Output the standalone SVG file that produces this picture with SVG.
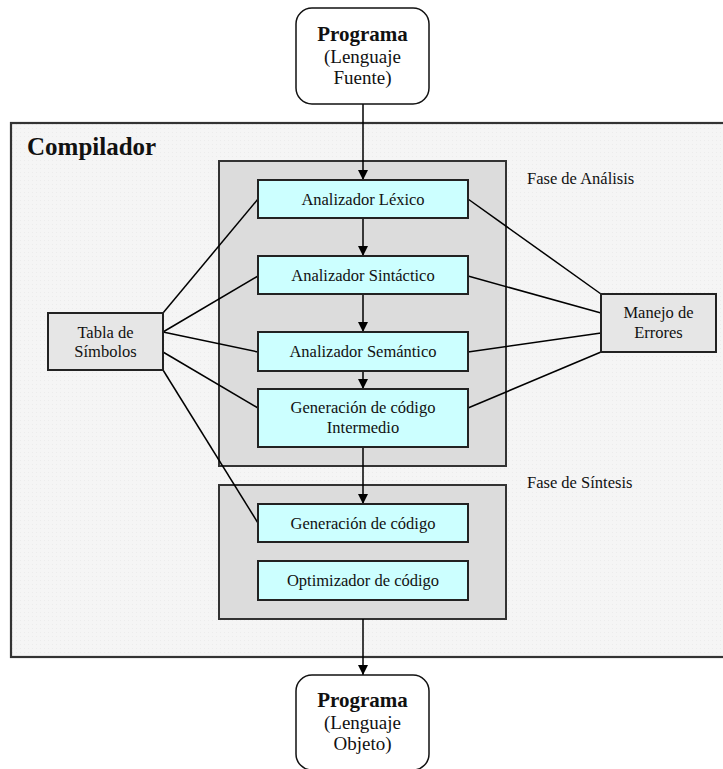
<svg xmlns="http://www.w3.org/2000/svg" width="723" height="769" viewBox="0 0 723 769">
  <defs>
    <marker id="arrow" viewBox="0 0 10 10" refX="10" refY="5" markerWidth="10" markerHeight="10" markerUnits="userSpaceOnUse" orient="auto">
      <path d="M0,0 L10,5 L0,10 Z" fill="#000"/>
    </marker>
    <pattern id="dots" width="4" height="4" patternUnits="userSpaceOnUse">
      <rect width="4" height="4" fill="#f5f5f5"/>
      <rect width="1" height="1" fill="#ececec"/>
    </pattern>
  </defs>
  <style>
    text { font-family: "Liberation Serif", "Times New Roman", serif; fill: #111; }
    .lbl { font-size: 16.5px; text-anchor: middle; }
    .prog { font-size: 19px; text-anchor: middle; }
    .bold { font-weight: bold; font-size: 21px; }
    .note { font-size: 16.5px; }
    .phase { fill: #dcdcdc; stroke: #333; stroke-width: 2; }
    .step { fill: #ccffff; stroke: #222; stroke-width: 2; }
    .side { fill: #e6e6e6; stroke: #222; stroke-width: 2; }
    .term { fill: #fff; stroke: #111; stroke-width: 1.5; }
    .conn line { stroke: #000; stroke-width: 1.5; }
    .flow line { stroke: #000; stroke-width: 1.5; marker-end: url(#arrow); }
  </style>

  <rect width="723" height="769" fill="#fff"/>

  <!-- Compiler container -->
  <g id="compilador">
    <rect x="11" y="123" width="716" height="534" fill="url(#dots)" stroke="#333" stroke-width="2.2"/>
    <text x="27" y="155" font-size="25" font-weight="bold">Compilador</text>
  </g>

  <!-- Analysis phase -->
  <g id="fase-analisis">
    <rect class="phase" x="219" y="161" width="287" height="305"/>
    <text class="note" x="527" y="184">Fase de Análisis</text>
  </g>

  <!-- Synthesis phase -->
  <g id="fase-sintesis">
    <rect class="phase" x="219" y="485" width="287" height="134"/>
    <text class="note" x="527" y="488">Fase de Síntesis</text>
  </g>

  <!-- Connectors -->
  <g id="connectors">
    <g class="conn">
      <!-- symbol table links -->
      <line x1="163" y1="313" x2="258" y2="199"/>
      <line x1="163" y1="332" x2="258" y2="276"/>
      <line x1="163" y1="332" x2="258" y2="352"/>
      <line x1="163" y1="352" x2="258" y2="408"/>
      <line x1="163" y1="370" x2="258" y2="523"/>
      <!-- error handler links -->
      <line x1="468" y1="199" x2="601" y2="294"/>
      <line x1="468" y1="276" x2="601" y2="313"/>
      <line x1="468" y1="352" x2="601" y2="333"/>
      <line x1="468" y1="408" x2="601" y2="352"/>
    </g>
    <g class="flow">
      <line x1="363" y1="104" x2="363" y2="180"/>
      <line x1="363" y1="218" x2="363" y2="256"/>
      <line x1="363" y1="294" x2="363" y2="332"/>
      <line x1="363" y1="371" x2="363" y2="389"/>
      <line x1="363" y1="447" x2="363" y2="504"/>
      <line x1="363" y1="619" x2="363" y2="675"/>
    </g>
  </g>

  <!-- Source program -->
  <g id="programa-fuente">
    <rect class="term" x="296" y="8" width="133" height="96" rx="16"/>
    <text class="prog bold" x="362.5" y="41">Programa</text>
    <text class="prog" x="362.5" y="63">(Lenguaje</text>
    <text class="prog" x="362.5" y="84">Fuente)</text>
  </g>

  <g id="analizador-lexico">
    <rect class="step" x="258" y="180" width="210" height="38"/>
    <text class="lbl" x="363" y="205">Analizador Léxico</text>
  </g>

  <g id="analizador-sintactico">
    <rect class="step" x="258" y="256" width="210" height="38"/>
    <text class="lbl" x="363" y="281">Analizador Sintáctico</text>
  </g>

  <g id="analizador-semantico">
    <rect class="step" x="258" y="332" width="210" height="39"/>
    <text class="lbl" x="363" y="357">Analizador Semántico</text>
  </g>

  <g id="codigo-intermedio">
    <rect class="step" x="258" y="389" width="210" height="58"/>
    <text class="lbl" x="363" y="413">Generación de código</text>
    <text class="lbl" x="363" y="433">Intermedio</text>
  </g>

  <g id="generacion-codigo">
    <rect class="step" x="258" y="504" width="210" height="38"/>
    <text class="lbl" x="363" y="529">Generación de código</text>
  </g>

  <g id="optimizador-codigo">
    <rect class="step" x="258" y="561" width="210" height="39"/>
    <text class="lbl" x="363" y="586">Optimizador de código</text>
  </g>

  <g id="tabla-simbolos">
    <rect class="side" x="48" y="313" width="115" height="57"/>
    <text class="lbl" x="105.5" y="338">Tabla de</text>
    <text class="lbl" x="105.5" y="357">Símbolos</text>
  </g>

  <g id="manejo-errores">
    <rect class="side" x="601" y="294" width="115" height="58"/>
    <text class="lbl" x="658.5" y="318">Manejo de</text>
    <text class="lbl" x="658.5" y="338">Errores</text>
  </g>

  <!-- Target program -->
  <g id="programa-objeto">
    <rect class="term" x="296" y="675" width="133" height="95" rx="16"/>
    <text class="prog bold" x="362.5" y="707">Programa</text>
    <text class="prog" x="362.5" y="729">(Lenguaje</text>
    <text class="prog" x="362.5" y="750">Objeto)</text>
  </g>
</svg>
